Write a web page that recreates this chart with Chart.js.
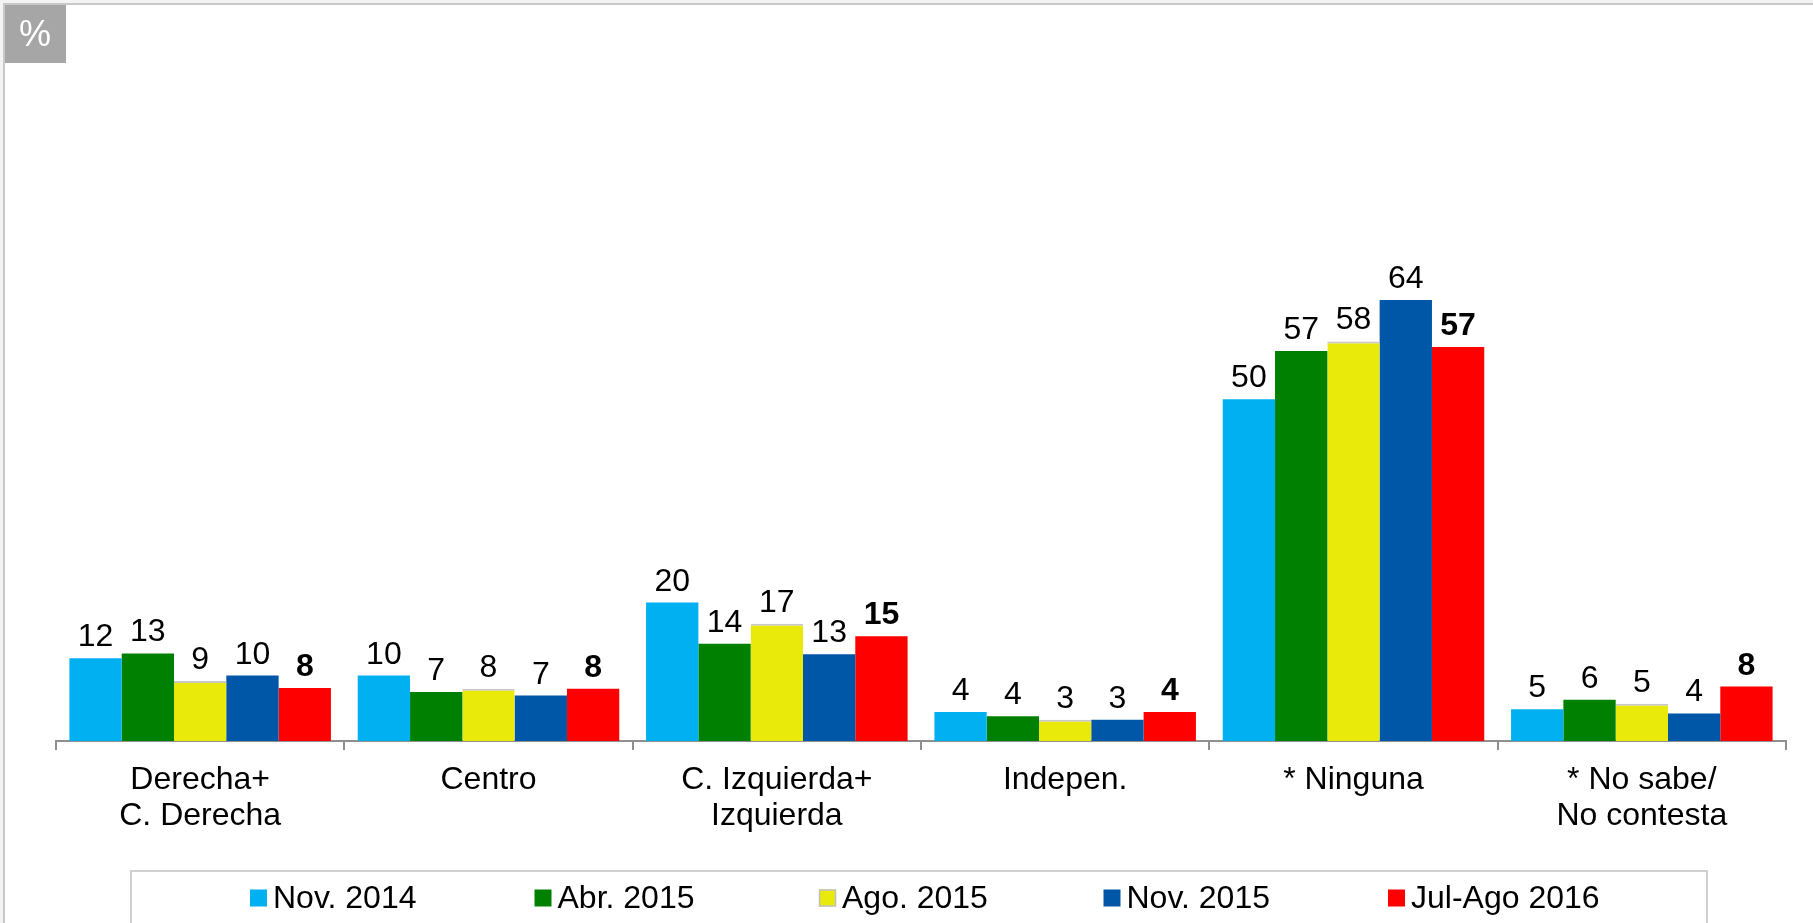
<!DOCTYPE html>
<html>
<head>
<meta charset="utf-8">
<title>Posición política</title>
<script src="https://cdn.jsdelivr.net/npm/chart.js@4.4.1/dist/chart.umd.min.js"></script>
<style>
  html, body { margin: 0; padding: 0; background: #fff; }
  #wrap { width: 1813px; height: 923px; }
</style>
</head>
<body>
<div id="wrap"><canvas id="chart" width="1813" height="923"></canvas></div>
<script>
// ============================
// Data
// ============================
const categories = [
  ["Derecha+", "C. Derecha"],
  "Centro",
  ["C. Izquierda+", "Izquierda"],
  "Indepen.",
  "* Ninguna",
  ["* No sabe/", "No contesta"],
];
const seriesNames = ["Nov. 2014", "Abr. 2015", "Ago. 2015", "Nov. 2015", "Jul-Ago 2016"];
const nov2014 = [12.0, 9.5, 20.1, 4.2, 49.6, 4.6];
const abr2015 = [12.7, 7.1, 14.1, 3.6, 56.6, 6.0];
const ago2015 = [8.7, 7.6, 17.0, 3.1, 58.0, 5.4];
const nov2015 = [9.5, 6.6, 12.6, 3.1, 64.0, 4.0];
const julAgo2016 = [7.7, 7.6, 15.2, 4.2, 57.2, 7.9];

const seriesColors = ["#00b0f0", "#008000", "#e9e90a", "#0057a8", "#ff0000"];
const FONT = '"Liberation Sans", Arial, sans-serif';

// ============================
// Plugins
// ============================
// page frame + "%" badge
const framePlugin = {
  id: "frame",
  beforeDraw(chart) {
    const ctx = chart.ctx;
    ctx.save();
    ctx.fillStyle = "#f3f3f3";
    ctx.fillRect(0, 0, chart.width, chart.height);
    ctx.fillStyle = "#fff";
    ctx.fillRect(5, 5, chart.width - 5, chart.height - 5);
    ctx.strokeStyle = "#c8c8c8";
    ctx.lineWidth = 2;
    ctx.beginPath();
    ctx.moveTo(4, chart.height);
    ctx.lineTo(4, 4);
    ctx.lineTo(chart.width, 4);
    ctx.stroke();

    ctx.fillStyle = "#a6a6a6";
    ctx.fillRect(5, 5, 61, 58);
    ctx.fillStyle = "#fff";
    ctx.font = "36px " + FONT;
    ctx.textAlign = "center";
    ctx.textBaseline = "middle";
    ctx.fillText("%", 35, 36);
    ctx.restore();
  },
};

// value labels above bars, last survey in bold
const valueLabels = {
  id: "valueLabels",
  afterDatasetsDraw(chart) {
    const ctx = chart.ctx;
    ctx.save();
    ctx.fillStyle = "#000";
    ctx.textAlign = "center";
    ctx.textBaseline = "alphabetic";
    chart.data.datasets.forEach((ds, i) => {
      const meta = chart.getDatasetMeta(i);
      ctx.font = (i === chart.data.datasets.length - 1 ? "bold " : "") + "32px " + FONT;
      meta.data.forEach((bar, j) => {
        ctx.fillText(String(Math.round(ds.data[j])), bar.x, bar.y - 12);
      });
    });
    ctx.restore();
  },
};

// boxed legend along the bottom
const boxLegend = {
  id: "boxLegend",
  afterDraw(chart) {
    const ctx = chart.ctx;
    const left = 131, right = 1707, top = 871;
    const first = 250, pitch = 284.5, box = 17, midY = 898;
    ctx.save();
    ctx.strokeStyle = "#d0d0d0";
    ctx.lineWidth = 2;
    ctx.beginPath();
    ctx.moveTo(left, chart.height + 2);
    ctx.lineTo(left, top);
    ctx.lineTo(right, top);
    ctx.lineTo(right, chart.height + 2);
    ctx.stroke();

    ctx.font = "32px " + FONT;
    ctx.textAlign = "left";
    ctx.textBaseline = "middle";
    chart.data.datasets.forEach((ds, i) => {
      const x = first + i * pitch;
      ctx.fillStyle = ds.backgroundColor;
      ctx.fillRect(x, midY - box / 2, box, box);
      if (ds.borderWidth) {
        ctx.strokeStyle = "#c0c0c0";
        ctx.lineWidth = 1.5;
        ctx.strokeRect(x + 0.5, midY - box / 2 + 0.5, box - 1, box - 1);
      }
      ctx.fillStyle = "#000";
      ctx.fillText(ds.label, x + box + 6, midY + 1);
    });
    ctx.restore();
  },
};

// ============================
// Chart
// ============================
const seriesData = [nov2014, abr2015, ago2015, nov2015, julAgo2016];

new Chart(document.getElementById("chart").getContext("2d"), {
  type: "bar",
  data: {
    labels: categories,
    datasets: seriesData.map((values, i) => ({
      label: seriesNames[i],
      data: values,
      backgroundColor: seriesColors[i],
      borderColor: "#c8c8c8",
      borderWidth: i === 2 ? { top: 2, left: 0, right: 0, bottom: 0 } : 0,
      borderSkipped: "bottom",
      categoryPercentage: 0.907,
      barPercentage: 1.0,
    })),
  },
  options: {
    responsive: false,
    animation: false,
    devicePixelRatio: 1,
    layout: { padding: { left: 56, right: 27, top: 52, bottom: 0 } },
    plugins: {
      legend: { display: false },
      tooltip: { enabled: false },
    },
    scales: {
      x: {
        grid: {
          display: true,
          drawOnChartArea: false,
          drawTicks: true,
          tickLength: 9,
          color: "#909090",
          lineWidth: 2,
          offset: true,
        },
        border: { display: true, color: "#909090", width: 2 },
        ticks: {
          color: "#000",
          padding: 12,
          maxRotation: 0,
          autoSkip: false,
          font: { family: FONT, size: 32, lineHeight: 1.125 },
        },
        afterFit(scale) {
          scale.height = 182;
        },
      },
      y: {
        display: false,
        min: 0,
        max: 100,
      },
    },
  },
  plugins: [framePlugin, valueLabels, boxLegend],
});
</script>
</body>
</html>
